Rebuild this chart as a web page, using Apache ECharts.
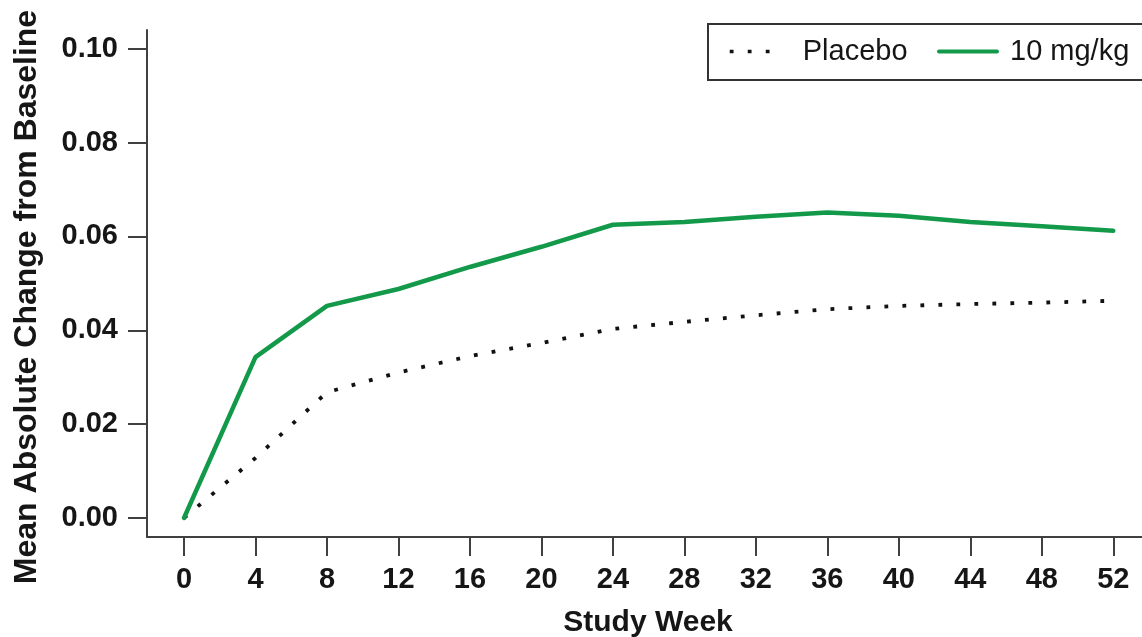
<!DOCTYPE html>
<html>
<head>
<meta charset="utf-8">
<script src="https://cdn.jsdelivr.net/npm/echarts@6/dist/echarts.min.js"></script>
<style>
  html, body { margin: 0; padding: 0; background: #fff; }
  #chart { width: 1142px; height: 637px; }
</style>
</head>
<body>
<div id="chart"></div>
<script>
// Study weeks at which the mean change was measured
const weeks = [0, 4, 8, 12, 16, 20, 24, 28, 32, 36, 40, 44, 48, 52];
// Mean absolute change from baseline, per arm
const placebo = [0, 0.0128, 0.0268, 0.0310, 0.0345, 0.0373, 0.0403, 0.0418, 0.0432, 0.0445, 0.0452, 0.0456, 0.0459, 0.0463];
const dose10 = [0, 0.0343, 0.0452, 0.0488, 0.0535, 0.0578, 0.0625, 0.0631, 0.0642, 0.0651, 0.0644, 0.0631, 0.0622, 0.0612];
// Axis tick values
const xTicks = [0, 4, 8, 12, 16, 20, 24, 28, 32, 36, 40, 44, 48, 52];
const yTicks = [0, 0.02, 0.04, 0.06, 0.08, 0.10];

const seriesNames = ['Placebo', '10 mg/kg'];
const yTitle = 'Mean Absolute Change from Baseline';
const xTitle = 'Study Week';
const FONT = '"Liberation Sans", Arial, Helvetica, sans-serif';
const INK = '#161616';
const AXIS = '#404040';
const GREEN = '#13994a';

const pairs = (ys) => weeks.map((w, i) => [w, ys[i]]);

const chart = echarts.init(document.getElementById('chart'), null, { renderer: 'canvas' });
chart.setOption({
  animation: false,
  backgroundColor: '#ffffff',
  textStyle: { fontFamily: FONT },
  grid: {
    left: 147, top: 30, width: 1002, height: 507,
    containLabel: false, outerBoundsMode: 'none'
  },
  graphic: [{
    type: 'rect',
    shape: { x: 708, y: 24, width: 450, height: 56 },
    style: { fill: 'none', stroke: '#333', lineWidth: 2 },
    z: 10
  }, {
    // vertical axis title
    type: 'text',
    x: 27, y: 297,
    rotation: Math.PI / 2,
    style: {
      text: yTitle,
      font: 'bold 32px ' + FONT,
      fill: INK,
      align: 'center',
      verticalAlign: 'middle'
    }
  }],
  legend: [{
    data: [seriesNames[0]],
    left: 728, top: 37, padding: 0,
    itemWidth: 42, itemHeight: 30,
    itemStyle: { opacity: 0 },
    lineStyle: { width: 3.5 },
    textStyle: { fontFamily: FONT, fontSize: 29, color: INK, padding: [0, 0, 0, 26] }
  }, {
    data: [seriesNames[1]],
    left: 937, top: 37, padding: 0,
    itemWidth: 58, itemHeight: 30,
    itemStyle: { opacity: 0 },
    lineStyle: { width: 4 },
    textStyle: { fontFamily: FONT, fontSize: 29, color: INK, padding: [0, 0, 0, 8] }
  }],
  xAxis: {
    type: 'value',
    min: -2.07, max: 54,
    name: xTitle,
    nameLocation: 'middle',
    nameGap: 71,
    nameTextStyle: { fontFamily: FONT, fontSize: 30, fontWeight: 'bold', color: INK },
    axisLine: { show: true, onZero: false, lineStyle: { color: AXIS, width: 2 } },
    axisTick: { show: true, length: 19, customValues: xTicks, lineStyle: { color: AXIS, width: 2 } },
    axisLabel: {
      customValues: xTicks, margin: 28,
      fontFamily: FONT, fontSize: 29, fontWeight: 'bold', color: INK
    },
    splitLine: { show: false }
  },
  yAxis: {
    type: 'value',
    min: -0.00405, max: 0.104,
    axisLine: { show: true, onZero: false, lineStyle: { color: AXIS, width: 2 } },
    axisTick: { show: true, length: 19, customValues: yTicks, lineStyle: { color: AXIS, width: 2 } },
    axisLabel: {
      customValues: yTicks, margin: 29,
      formatter: (v) => v.toFixed(2),
      fontFamily: FONT, fontSize: 29, fontWeight: 'bold', color: INK
    },
    splitLine: { show: false }
  },
  series: [{
    name: seriesNames[0],
    type: 'line',
    data: pairs(placebo),
    symbol: 'none',
    lineStyle: { color: '#111', width: 3.8, type: [3.8, 14.2], cap: 'butt' },
    itemStyle: { color: '#111' },
    z: 3
  }, {
    name: seriesNames[1],
    type: 'line',
    data: pairs(dose10),
    symbol: 'none',
    lineStyle: { color: GREEN, width: 4.5, join: 'round', cap: 'round' },
    itemStyle: { color: GREEN },
    z: 4
  }]
});
</script>
</body>
</html>
